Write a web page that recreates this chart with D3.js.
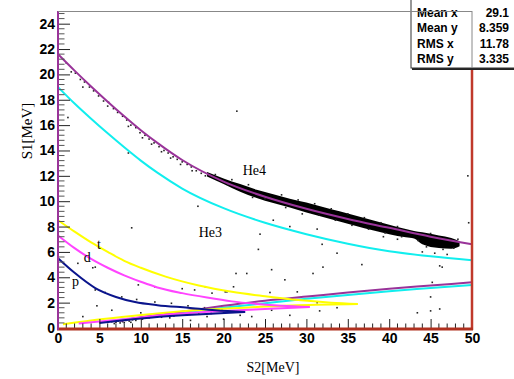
<!DOCTYPE html>
<html>
<head>
<meta charset="utf-8">
<script src="https://cdn.jsdelivr.net/npm/d3@7"></script>
<style>
  html, body { margin: 0; padding: 0; background: #fff; }
  svg { display: block; }
</style>
</head>
<body>
<svg id="chart" width="514" height="379"></svg>
<script>
// axis ranges and ticks
const xDomain = [0, 50];
const yDomain = [0, 25];
const xMajor = [0, 5, 10, 15, 20, 25, 30, 35, 40, 45, 50];
const yMajor = [0, 2, 4, 6, 8, 10, 12, 14, 16, 18, 20, 22, 24];

// stats box
const statNames = ['Mean x', 'Mean y', 'RMS x', 'RMS y'];
const statValues = ['29.1', '8.359', '11.78', '3.335'];

// particle identification curves (S2, S1)
const he4Upper = [[0,21.6],[2,20.3],[4,19.05],[6,17.85],[8,16.7],[10,15.6],[12,14.6],[15,13.25],[20,11.55],[25,10.35],[30,9.4],[35,8.6],[40,7.9],[45,7.2],[50,6.6]];
const he4Lower = [[7.5,0.55],[10,0.85],[14.7,1.27],[20,1.75],[25,2.15],[30.4,2.5],[35,2.8],[40,3.1],[45,3.35],[50,3.6]];
const he3Upper = [[0,19.0],[2,17.7],[4,16.5],[6,15.35],[8,14.25],[10,13.2],[12,12.25],[15,11.0],[20,9.45],[25,8.3],[30,7.4],[35,6.65],[40,6.05],[45,5.65],[50,5.35]];
const he3Lower = [[7,0.6],[10,0.8],[15,1.2],[20,1.6],[25,1.95],[30,2.3],[35,2.6],[40,2.9],[45,3.15],[50,3.4]];
const tUpper = [[0,8.5],[2,7.6],[4,6.75],[6,6.0],[8,5.3],[10,4.75],[13,4.05],[17,3.35],[21,2.85],[25,2.5],[29,2.2],[33,2.0],[36.2,1.9]];
const tLower = [[0.6,0.3],[4,0.6],[7.7,0.87],[12,1.15],[18,1.45],[24,1.65],[29,1.8],[36.2,1.9]];
const dUpper = [[0,7.3],[2,6.3],[4,5.45],[6,4.75],[8,4.15],[10,3.65],[12,3.2],[15,2.75],[18,2.4],[21,2.1],[24,1.9],[27,1.75],[30.4,1.65]];
const dLower = [[2.5,0.35],[8,0.7],[14,1.1],[20,1.35],[25,1.5],[30.4,1.65]];
const pUpper = [[0,5.5],[2,4.35],[4.5,3.15],[7,2.45],[9.3,2.05],[12,1.8],[15.7,1.6],[19,1.4],[22.6,1.27]];
const pLower = [[5,0.4],[10,0.75],[15,1.0],[19,1.15],[22.6,1.27]];

// dense He4 band: S2 and the S1 edges of the filled cells
const bandX  = [18, 20, 22, 24, 26, 28, 30, 32, 34, 36, 38, 40, 42, 43, 44, 46, 47.5, 48.5];
const bandHi = [12.3, 11.8, 11.35, 10.9, 10.55, 10.2, 9.9, 9.55, 9.2, 8.85, 8.5, 8.15, 7.8, 7.65, 7.55, 7.3, 7.1, 6.85];
const bandLo = [11.95, 11.35, 10.75, 10.25, 9.85, 9.5, 9.1, 8.75, 8.4, 8.05, 7.7, 7.4, 7.15, 7.05, 6.6, 6.3, 6.25, 6.45];

// scattered entries
const scatterPts = [
  [1.0,20.9],[1.6,20.2],[2.1,20.1],[2.7,19.6],[3.2,19.4],[3.8,19.0],[4.3,18.7],[4.9,18.3],[5.5,17.9],[6.1,17.8],
  [6.7,17.3],[7.2,17.0],[7.8,16.7],[8.3,16.4],[8.8,16.0],[9.4,15.8],[9.9,15.4],[10.5,15.2],[11.0,14.9],[11.6,14.6],
  [12.2,14.3],[12.8,14.0],[13.3,13.8],[13.9,13.5],[14.4,13.3],[15.0,13.1],[15.6,12.9],[16.1,12.7],[16.7,12.4],[17.3,12.2],
  [17.8,12.0],[10.2,15.0],[12.5,13.9],[14.8,12.9],[16.2,12.4],[8.5,15.9],[6.0,17.5],[3.0,19.0],[11.3,14.5],[13.6,13.4],
  [1.2,16.6],[8.5,13.8],[21.6,17.1],[16.9,9.6],
  [19,12.1],[20.5,11.3],[21,11.7],[23,11.3],[23.5,10.3],[25,10.2],[27,10.5],[27.5,9.5],[29,10.1],[29.5,9.0],
  [31,9.8],[31.5,8.9],[33,9.4],[33.5,8.5],[35,9.0],[35.5,8.1],[37,8.7],[37.5,7.8],[39,8.3],[39.5,7.5],
  [41,8.0],[41.5,7.2],[43.5,6.9],[45,7.45],[46.5,6.2],[47.8,6.3],[48.3,7.0],
  [24.4,7.4],[26,8.5],[28,8.0],[31.3,7.8],[39.3,7.2],[41,7.0],[24.2,6.2],[31.9,6.6],[33.7,5.9],[32,4.8],
  [36.7,5.0],[46.4,4.8],[46.1,4.9],[45.5,5.9],[47,5.8],[44,6.0],[49.5,12.0],[49.6,8.3],[44.5,6.4],
  [25.8,4.6],[22.8,4.3],[21.5,4.3],[30.8,4.3],[27.4,3.8],[45.2,3.6],[45,2.45],[33.7,1.6],[43.4,1.2],[45,1.35],
  [46.1,1.5],[17.8,3.25],[21.2,3.25],[20.4,2.85],[25.6,2.8],[28.9,2.85],[31.3,2.0],[31.6,1.35],[28,1.0],[25.8,1.4],[23.4,0.9],
  [4.5,3.0],[5.7,2.8],[7.7,2.45],[9.5,2.25],[11.7,2.05],[13.7,1.95],[15.7,1.75],[17.7,1.6],[19.8,1.4],[9.7,3.4],
  [11.7,3.25],[15,3.1],[16.5,3.0],[18.6,2.75],[20.2,2.85],[2.4,5.1],[4.2,4.75],[4.5,4.8],[8.9,7.9],[4.7,1.75],
  [6.5,1.4],[3,0.9],[10,1.2],[12,1.0],[13.5,0.8],[16,0.6],[18,0.9],[20,0.7],[22,1.0],
  [6.0,0.45],[6.5,0.5],[7.0,0.45],[7.3,0.55],[7.8,0.5],[8.2,0.6],[8.6,0.55],[9.0,0.65],[9.4,0.6],[6.8,0.35],
  [7.5,0.4],[8.0,0.42],[8.8,0.45],[10.2,0.7],[11,0.8],[12.5,0.85],[14,0.95],[15.5,1.05],[17,1.1],[18.5,1.15],
  [20,1.2],[21.5,1.25]
];

// curve labels
const curveLabels = [
  { text: 'He4', x: 22.3, y: 12.1 },
  { text: 'He3', x: 17.0, y: 7.2 },
  { text: 't', x: 4.7, y: 6.2 },
  { text: 'd', x: 3.1, y: 5.2 },
  { text: 'p', x: 1.7, y: 3.3 }
];

const svg = d3.select('#chart');
const plotLeft = 58, plotRight = 472, plotTop = 11, plotBottom = 328;

const x = d3.scaleLinear().domain(xDomain).range([plotLeft, plotRight]);
const y = d3.scaleLinear().domain(yDomain).range([plotBottom, plotTop]);

const line = d3.line()
  .x(d => x(d[0]))
  .y(d => y(d[1]))
  .curve(d3.curveMonotoneX);

// band
const band = bandX.map((v, i) => ({ x: v, hi: bandHi[i], lo: bandLo[i] }));
svg.append('path')
  .datum(band)
  .attr('d', d3.area().x(d => x(d.x)).y0(d => y(d.lo)).y1(d => y(d.hi)).curve(d3.curveMonotoneX))
  .attr('fill', '#000');

// scattered entries
svg.append('g')
  .selectAll('rect')
  .data(scatterPts)
  .enter()
  .append('rect')
  .attr('x', d => x(d[0]) - 0.8)
  .attr('y', d => y(d[1]) - 0.8)
  .attr('width', 1.6)
  .attr('height', 1.6)
  .attr('fill', '#222');

// curves
const curves = [
  { pts: he3Upper, color: '#11eeee' },
  { pts: he3Lower, color: '#11eeee' },
  { pts: he4Upper, color: '#993399' },
  { pts: he4Lower, color: '#993399' },
  { pts: tUpper, color: '#ffff00' },
  { pts: tLower, color: '#ffff00' },
  { pts: dUpper, color: '#ff44ff' },
  { pts: dLower, color: '#ff44ff' },
  { pts: pUpper, color: '#0a148c' },
  { pts: pLower, color: '#0a148c' }
];
svg.append('g')
  .selectAll('path')
  .data(curves)
  .enter()
  .append('path')
  .attr('d', d => line(d.pts))
  .attr('fill', 'none')
  .attr('stroke', d => d.color)
  .attr('stroke-width', 2);

// labels on curves
svg.append('g')
  .selectAll('text')
  .data(curveLabels)
  .enter()
  .append('text')
  .attr('x', d => x(d.x))
  .attr('y', d => y(d.y))
  .attr('font-family', '"Liberation Serif", "Times New Roman", serif')
  .attr('font-size', 14)
  .attr('fill', '#000')
  .text(d => d.text);

// x axis
const xAxis = svg.append('g')
  .attr('transform', `translate(0,${plotBottom})`)
  .call(d3.axisBottom(x).tickValues(xMajor).tickSize(-9).tickPadding(5).tickFormat(d3.format('d')));
xAxis.select('.domain').remove();
xAxis.selectAll('text')
  .attr('font-family', '"Liberation Sans", Arial, sans-serif')
  .attr('font-weight', 'bold')
  .attr('font-size', 14)
  .attr('fill', '#000');
xAxis.selectAll('line').attr('stroke', '#222');

svg.append('g')
  .selectAll('line')
  .data(d3.range(0, 51, 1).filter(v => v % 5 !== 0))
  .enter()
  .append('line')
  .attr('x1', d => x(d)).attr('x2', d => x(d))
  .attr('y1', plotBottom).attr('y2', plotBottom - 4.5)
  .attr('stroke', '#222');

// y axis
const yAxis = svg.append('g')
  .attr('transform', `translate(${plotLeft},0)`)
  .call(d3.axisLeft(y).tickValues(yMajor).tickSize(-12).tickPadding(3).tickFormat(d3.format('d')));
yAxis.select('.domain').remove();
yAxis.selectAll('text')
  .attr('font-family', '"Liberation Sans", Arial, sans-serif')
  .attr('font-weight', 'bold')
  .attr('font-size', 14)
  .attr('fill', '#000');
yAxis.selectAll('line').attr('stroke', '#222');

svg.append('g')
  .selectAll('line')
  .data(d3.range(0, 125, 2).map(v => v / 5).filter(v => Math.round(v * 10) % 20 !== 0))
  .enter()
  .append('line')
  .attr('x1', plotLeft).attr('x2', plotLeft + 6.5)
  .attr('y1', d => y(d)).attr('y2', d => y(d))
  .attr('stroke', '#555');

// frame
svg.append('line')
  .attr('x1', plotRight).attr('x2', plotRight).attr('y1', plotTop).attr('y2', plotBottom + 2)
  .attr('stroke', '#c0392b').attr('stroke-width', 2.5);
svg.append('line')
  .attr('x1', plotLeft - 1).attr('x2', plotRight + 1).attr('y1', plotBottom + 1).attr('y2', plotBottom + 1)
  .attr('stroke', '#b0301f').attr('stroke-width', 3);
svg.append('line')
  .attr('x1', plotLeft).attr('x2', plotLeft).attr('y1', plotTop).attr('y2', plotBottom + 2)
  .attr('stroke', '#993399').attr('stroke-width', 2);

// stats box
const box = svg.append('g');
box.append('rect')
  .attr('x', 412).attr('y', 2).attr('width', 104).attr('height', 68)
  .attr('fill', '#222');
box.append('rect')
  .attr('x', 411).attr('y', -1).attr('width', 104).attr('height', 69)
  .attr('fill', '#fff').attr('stroke', '#333').attr('stroke-width', 1);

svg.append('line')
  .attr('x1', plotLeft).attr('x2', plotRight).attr('y1', plotTop + 0.5).attr('y2', plotTop + 0.5)
  .attr('stroke', '#888');
svg.append('line')
  .attr('x1', plotRight).attr('x2', plotRight).attr('y1', plotTop).attr('y2', 68)
  .attr('stroke', '#888');

box.selectAll('text.name')
  .data(statNames)
  .enter()
  .append('text')
  .attr('class', 'name')
  .attr('x', 417)
  .attr('y', (d, i) => 17 + i * 15.3)
  .attr('font-family', '"Liberation Sans", Arial, sans-serif')
  .attr('font-weight', 'bold')
  .attr('font-size', 12)
  .text(d => d);
box.selectAll('text.val')
  .data(statValues)
  .enter()
  .append('text')
  .attr('class', 'val')
  .attr('x', 509)
  .attr('y', (d, i) => 17 + i * 15.3)
  .attr('text-anchor', 'end')
  .attr('font-family', '"Liberation Sans", Arial, sans-serif')
  .attr('font-weight', 'bold')
  .attr('font-size', 12)
  .text(d => d);

// axis titles
svg.append('text')
  .attr('x', 273).attr('y', 372)
  .attr('text-anchor', 'middle')
  .attr('font-family', '"Liberation Serif", "Times New Roman", serif')
  .attr('font-size', 14)
  .text('S2[MeV]');
svg.append('text')
  .attr('transform', 'translate(32,131) rotate(-90)')
  .attr('text-anchor', 'middle')
  .attr('font-family', '"Liberation Serif", "Times New Roman", serif')
  .attr('font-size', 15)
  .text('S1[MeV]');
</script>
</body>
</html>
